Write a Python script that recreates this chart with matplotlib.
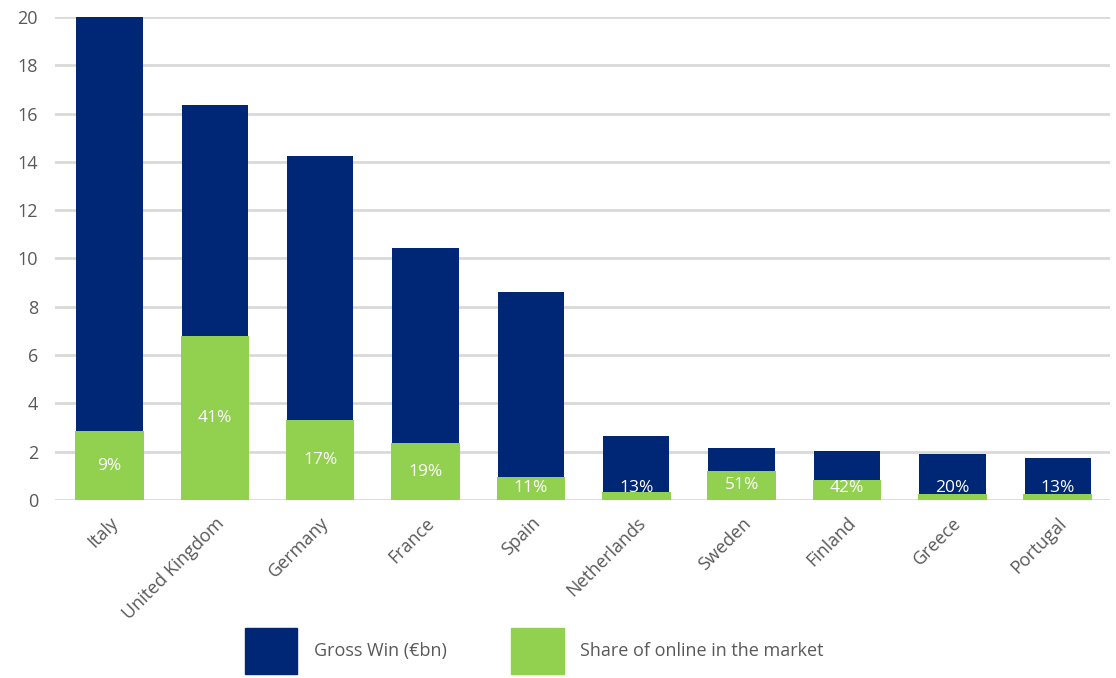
import matplotlib.pyplot as plt
from matplotlib.patches import Patch
import numpy as np

countries = ["Italy", "United Kingdom", "Germany", "France", "Spain",
             "Netherlands", "Sweden", "Finland", "Greece", "Portugal"]
gross_win = [20.0, 16.35, 14.25, 10.45, 8.6, 2.67, 2.15, 2.01, 1.89, 1.72]
online_win = [2.85, 6.8, 3.3, 2.36, 0.94, 0.35, 1.21, 0.82, 0.25, 0.26]
online_share = [9, 41, 17, 19, 11, 13, 51, 42, 20, 13]

BLUE = "#002776"
GREEN = "#92d050"
GREY = "#595959"

plt.rcParams['font.family'] = ['Open Sans', 'DejaVu Sans']

fig = plt.figure(figsize=(11.16, 6.78), dpi=100)
ax = fig.add_axes([0.049, 0.2625, 0.946, 0.7125])

x = np.arange(len(countries))
width = 0.63
ax.bar(x, gross_win, width, color=BLUE, zorder=2)
ax.bar(x, online_win, width + 0.02, color=GREEN, zorder=3)

# share labels sit in the middle of the green bar, or just above the baseline if it is thin
for xi, ow, s in zip(x, online_win, online_share):
    ax.text(xi, max(ow / 2, 0.5), f"{s}%", ha="center", va="center",
            color="white", fontsize=12.5, zorder=4)

ax.set_ylim(0, 20)
ax.set_xlim(-0.52, len(countries) - 0.5)
ax.set_yticks(range(0, 21, 2))
ax.yaxis.grid(True, color="#d9d9d9", linewidth=2)
ax.set_axisbelow(True)
for side in ["top", "right", "left", "bottom"]:
    ax.spines[side].set_visible(False)
ax.tick_params(axis="both", length=0, colors=GREY, labelsize=13)
ax.tick_params(axis="y", pad=12)
ax.set_xticks(x)
ax.set_xticklabels(countries, rotation=45, ha="right", rotation_mode="anchor")
ax.tick_params(axis="x", pad=10)

handles = [Patch(color=BLUE, label="Gross Win (€bn)"),
           Patch(color=GREEN, label="Share of online in the market")]
fig.legend(handles=handles, loc="upper left", bbox_to_anchor=(245 / 1116, 1 - 628 / 678),
           ncol=2, frameon=False, fontsize=13, labelcolor=GREY, borderpad=0,
           handlelength=2.9, handleheight=3.5, handletextpad=0.9, columnspacing=3.6,
           borderaxespad=0)

fig.savefig("out.png", dpi=100)
